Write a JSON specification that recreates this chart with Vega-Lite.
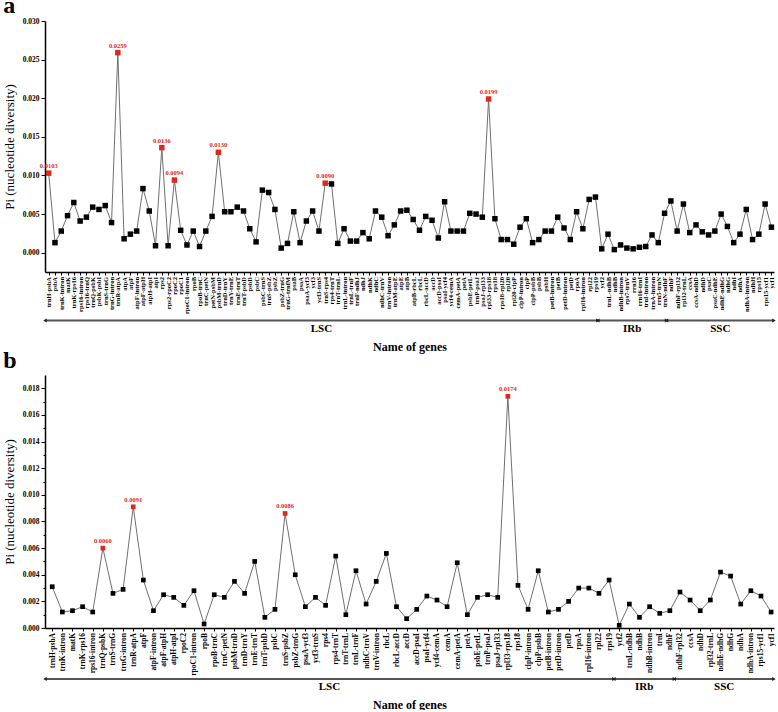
{
  "$schema": "https://vega.github.io/schema/vega-lite/v6.json",
  "background": "white",
  "padding": {"left": 3, "top": -6, "right": 0, "bottom": 0},
  "config": {
    "view": {"stroke": null},
    "font": "Liberation Serif",
    "axis": {"labelFont": "Liberation Serif", "titleFont": "Liberation Serif", "labelFontWeight": "bold", "labelColor": "black", "titleColor": "black", "domainColor": "black", "tickColor": "black", "grid": false},
    "title": {"font": "Liberation Serif", "fontWeight": "bold", "color": "black"}
  },
  "datasets": {
    "a": [
      {"gene": "trnH-psbA", "pi": 0.0103, "hl": true},
      {"gene": "psbA", "pi": 0.0013},
      {"gene": "trnK-intron", "pi": 0.0028},
      {"gene": "matK", "pi": 0.0048},
      {"gene": "trnK-rps16", "pi": 0.0065},
      {"gene": "rps16-intron", "pi": 0.0041},
      {"gene": "rps16-trnQ", "pi": 0.0046},
      {"gene": "trnQ-psbK", "pi": 0.0059},
      {"gene": "psbK-psbI", "pi": 0.0056},
      {"gene": "trnS-trnG", "pi": 0.0061},
      {"gene": "trnG-intron", "pi": 0.0039},
      {"gene": "trnR-atpA", "pi": 0.0259, "hl": true},
      {"gene": "atpA", "pi": 0.0018},
      {"gene": "atpF", "pi": 0.0024},
      {"gene": "atpF-intron", "pi": 0.0028},
      {"gene": "atpF-atpH", "pi": 0.0083},
      {"gene": "atpH-atpI", "pi": 0.0054},
      {"gene": "atpI", "pi": 0.0009},
      {"gene": "rps2", "pi": 0.0136, "hl": true},
      {"gene": "rps2-rpoC2", "pi": 0.0009},
      {"gene": "rpoC2", "pi": 0.0094, "hl": true},
      {"gene": "rpoC1", "pi": 0.0029},
      {"gene": "rpoC1-intron", "pi": 0.0010},
      {"gene": "rpoB", "pi": 0.0028},
      {"gene": "rpoB-trnC", "pi": 0.0008},
      {"gene": "trnC-petN", "pi": 0.0028},
      {"gene": "petN-psbM", "pi": 0.0047},
      {"gene": "psbM-trnD", "pi": 0.0130, "hl": true},
      {"gene": "trnD-trnY", "pi": 0.0053},
      {"gene": "trnY-trnE", "pi": 0.0053},
      {"gene": "trnE-trnT", "pi": 0.0059},
      {"gene": "trnT-psbD", "pi": 0.0054},
      {"gene": "psbD", "pi": 0.0031},
      {"gene": "psbC", "pi": 0.0014},
      {"gene": "psbC-trnS", "pi": 0.0081},
      {"gene": "trnS-psbZ", "pi": 0.0078},
      {"gene": "psbZ", "pi": 0.0056},
      {"gene": "psbZ-trnG", "pi": 0.0006},
      {"gene": "trnG-trnfM", "pi": 0.0012},
      {"gene": "psaB", "pi": 0.0053},
      {"gene": "psaA", "pi": 0.0013},
      {"gene": "psaA-ycf3", "pi": 0.0041},
      {"gene": "ycf3", "pi": 0.0054},
      {"gene": "ycf3-trnS", "pi": 0.0028},
      {"gene": "trnS-rps4", "pi": 0.0090, "hl": true},
      {"gene": "rps4-trnT", "pi": 0.0089},
      {"gene": "trnT-trnL", "pi": 0.0012},
      {"gene": "trnL-intron", "pi": 0.0031},
      {"gene": "trnL-trnF", "pi": 0.0015},
      {"gene": "trnF-ndhJ", "pi": 0.0015},
      {"gene": "ndhJ", "pi": 0.0026},
      {"gene": "ndhK", "pi": 0.0018},
      {"gene": "ndhC", "pi": 0.0054},
      {"gene": "ndhC-trnV", "pi": 0.0046},
      {"gene": "trnV-intron", "pi": 0.0022},
      {"gene": "trnM-atpE", "pi": 0.0036},
      {"gene": "atpE", "pi": 0.0054},
      {"gene": "atpB", "pi": 0.0055},
      {"gene": "atpB-rbcL", "pi": 0.0043},
      {"gene": "rbcL", "pi": 0.0029},
      {"gene": "rbcL-accD", "pi": 0.0047},
      {"gene": "accD", "pi": 0.0042},
      {"gene": "accD-psaI", "pi": 0.0019},
      {"gene": "psaI-ycf4", "pi": 0.0066},
      {"gene": "ycf4-cemA", "pi": 0.0028},
      {"gene": "cemA-petA", "pi": 0.0028},
      {"gene": "petA", "pi": 0.0028},
      {"gene": "psbE-petL", "pi": 0.0051},
      {"gene": "trnP-psaJ", "pi": 0.0050},
      {"gene": "psaJ-rpl33", "pi": 0.0046},
      {"gene": "rpl33-rps18", "pi": 0.0199, "hl": true},
      {"gene": "rps18", "pi": 0.0044},
      {"gene": "rps18-rpl20", "pi": 0.0017},
      {"gene": "rpl20", "pi": 0.0017},
      {"gene": "rpl20-clpP", "pi": 0.0011},
      {"gene": "clpP-intron", "pi": 0.0033},
      {"gene": "clpP", "pi": 0.0044},
      {"gene": "clpP-psbB", "pi": 0.0013},
      {"gene": "psbB", "pi": 0.0017},
      {"gene": "psbH", "pi": 0.0028},
      {"gene": "petB-intron", "pi": 0.0028},
      {"gene": "petB", "pi": 0.0046},
      {"gene": "petD-intron", "pi": 0.0032},
      {"gene": "petD", "pi": 0.0017},
      {"gene": "rpoA", "pi": 0.0053},
      {"gene": "rpl16-intron", "pi": 0.0031},
      {"gene": "rpl22", "pi": 0.0069},
      {"gene": "rps19", "pi": 0.0072},
      {"gene": "ycf2", "pi": 0.0005},
      {"gene": "trnL-ndhB", "pi": 0.0024},
      {"gene": "ndhB", "pi": 0.0004},
      {"gene": "ndhB-intron", "pi": 0.0010},
      {"gene": "rps7-trnV", "pi": 0.0006},
      {"gene": "rrn16", "pi": 0.0005},
      {"gene": "rrn16-trnI", "pi": 0.0007},
      {"gene": "trnI-intron", "pi": 0.0008},
      {"gene": "trnA-intron", "pi": 0.0023},
      {"gene": "rrn5-trnN", "pi": 0.0013},
      {"gene": "trnN-ndhF", "pi": 0.0051},
      {"gene": "ndhF", "pi": 0.0067},
      {"gene": "ndhF-rpl32", "pi": 0.0028},
      {"gene": "rpl32-trnL", "pi": 0.0063},
      {"gene": "ccsA", "pi": 0.0026},
      {"gene": "ccsA-ndhD", "pi": 0.0036},
      {"gene": "ndhD", "pi": 0.0027},
      {"gene": "psaC", "pi": 0.0023},
      {"gene": "psaC-ndhE", "pi": 0.0028},
      {"gene": "ndhE-ndhG", "pi": 0.0050},
      {"gene": "ndhG", "pi": 0.0034},
      {"gene": "ndhI", "pi": 0.0013},
      {"gene": "ndhA", "pi": 0.0024},
      {"gene": "ndhA-intron", "pi": 0.0056},
      {"gene": "ndhH", "pi": 0.0017},
      {"gene": "rps15", "pi": 0.0024},
      {"gene": "rps15-ycf1", "pi": 0.0063},
      {"gene": "ycf1", "pi": 0.0033}
    ],
    "b": [
      {"gene": "trnH-psbA", "pi": 0.0031},
      {"gene": "trnK-intron", "pi": 0.0012},
      {"gene": "matK", "pi": 0.0013},
      {"gene": "trnK-rps16", "pi": 0.0016},
      {"gene": "rps16-intron", "pi": 0.0012},
      {"gene": "trnQ-psbK", "pi": 0.0060, "hl": true},
      {"gene": "trnS-trnG", "pi": 0.0026},
      {"gene": "trnG-intron", "pi": 0.0029},
      {"gene": "trnR-atpA", "pi": 0.0091, "hl": true},
      {"gene": "atpF", "pi": 0.0036},
      {"gene": "atpF-intron", "pi": 0.0013},
      {"gene": "atpF-atpH", "pi": 0.0025},
      {"gene": "atpH-atpI", "pi": 0.0023},
      {"gene": "rpoC2", "pi": 0.0017},
      {"gene": "rpoC1-intron", "pi": 0.0028},
      {"gene": "rpoB", "pi": 0.0003},
      {"gene": "rpoB-trnC", "pi": 0.0025},
      {"gene": "trnC-petN", "pi": 0.0023},
      {"gene": "psbM-trnD", "pi": 0.0035},
      {"gene": "trnD-trnY", "pi": 0.0026},
      {"gene": "trnE-trnT", "pi": 0.0050},
      {"gene": "trnT-psbD", "pi": 0.0008},
      {"gene": "psbC", "pi": 0.0014},
      {"gene": "trnS-psbZ", "pi": 0.0086, "hl": true},
      {"gene": "psbZ-trnG", "pi": 0.0040},
      {"gene": "psaA-ycf3", "pi": 0.0016},
      {"gene": "ycf3-trnS", "pi": 0.0023},
      {"gene": "rps4", "pi": 0.0017},
      {"gene": "rps4-trnT", "pi": 0.0054},
      {"gene": "trnT-trnL", "pi": 0.0010},
      {"gene": "trnL-trnF", "pi": 0.0043},
      {"gene": "ndhC-trnV", "pi": 0.0018},
      {"gene": "trnV-intron", "pi": 0.0035},
      {"gene": "rbcL", "pi": 0.0056},
      {"gene": "rbcL-accD", "pi": 0.0016},
      {"gene": "accD", "pi": 0.0007},
      {"gene": "accD-psaI", "pi": 0.0014},
      {"gene": "psaI-ycf4", "pi": 0.0024},
      {"gene": "ycf4-cemA", "pi": 0.0021},
      {"gene": "cemA", "pi": 0.0016},
      {"gene": "cemA-petA", "pi": 0.0049},
      {"gene": "petA", "pi": 0.0010},
      {"gene": "psbE-petL", "pi": 0.0023},
      {"gene": "trnP-psaJ", "pi": 0.0025},
      {"gene": "psaJ-rpl33", "pi": 0.0023},
      {"gene": "rpl33-rps18", "pi": 0.0174, "hl": true},
      {"gene": "rps18", "pi": 0.0032},
      {"gene": "clpP-intron", "pi": 0.0014},
      {"gene": "clpP-psbB", "pi": 0.0043},
      {"gene": "petB-intron", "pi": 0.0012},
      {"gene": "petD-intron", "pi": 0.0014},
      {"gene": "petD", "pi": 0.0020},
      {"gene": "rpoA", "pi": 0.0030},
      {"gene": "rpl16-intron", "pi": 0.0030},
      {"gene": "rpl22", "pi": 0.0026},
      {"gene": "rps19", "pi": 0.0036},
      {"gene": "ycf2", "pi": 0.0002},
      {"gene": "trnL-ndhB", "pi": 0.0018},
      {"gene": "ndhB", "pi": 0.0008},
      {"gene": "ndhB-intron", "pi": 0.0016},
      {"gene": "trnI", "pi": 0.0011},
      {"gene": "ndhF", "pi": 0.0013},
      {"gene": "ndhF-rpl32", "pi": 0.0027},
      {"gene": "ccsA", "pi": 0.0021},
      {"gene": "ndhD", "pi": 0.0013},
      {"gene": "rpl32-trnL", "pi": 0.0021},
      {"gene": "ndhE-ndhG", "pi": 0.0042},
      {"gene": "ndhG", "pi": 0.0039},
      {"gene": "ndhA", "pi": 0.0018},
      {"gene": "ndhA-intron", "pi": 0.0028},
      {"gene": "rps15-ycf1", "pi": 0.0024},
      {"gene": "ycf1", "pi": 0.0012}
    ],
    "ra": [
      {"region": "LSC", "start": 0, "end": 88.5},
      {"region": "IRb", "start": 88.5, "end": 99.5},
      {"region": "SSC", "start": 99.5, "end": 116.7}
    ],
    "rb": [
      {"region": "LSC", "start": 0, "end": 56.5},
      {"region": "IRb", "start": 56.5, "end": 62.5},
      {"region": "SSC", "start": 62.5, "end": 72.4}
    ]
  },
  "spacing": -3,
  "vconcat": [
    {
      "title": {"text": "a", "fontSize": 24, "anchor": "start", "frame": "bounds", "offset": -1},
      "spacing": 3,
      "vconcat": [
        {
          "width": 729,
          "height": 251,
          "data": {"name": "a"},
          "encoding": {
            "x": {"field": "gene", "type": "ordinal", "sort": null,
              "scale": {"type": "point", "paddingOuter": 0.85, "align": 0.588},
              "axis": {"title": null, "labelAngle": -90, "labelFontSize": 6.5, "labelOverlap": false, "labelPadding": 1.5, "tickSize": 3, "domainWidth": 1.5, "labelBound": false, "labelFlush": false}},
            "y": {"field": "pi", "type": "quantitative",
              "scale": {"domain": [-0.0025, 0.03], "nice": false, "zero": false},
              "axis": {"values": [0, 0.005, 0.01, 0.015, 0.02, 0.025, 0.03], "format": ".3f", "labelFontSize": 7.5, "tickSize": 4, "labelPadding": 2, "title": "Pi (nucleotide diversity)", "titleFontSize": 13, "titleFontWeight": "normal", "titlePadding": 6, "domainWidth": 1.5}}
          },
          "layer": [
            {"mark": {"type": "line", "color": "#707070", "strokeWidth": 1}},
            {"mark": {"type": "square", "size": 30, "opacity": 1, "filled": true},
              "encoding": {"color": {"condition": {"test": "datum.hl", "value": "#e3261c"}, "value": "black"}}},
            {"transform": [{"filter": "datum.hl"}],
              "mark": {"type": "text", "dy": -7, "fontSize": 6.5, "fontWeight": "bold", "color": "#e3261c", "font": "Liberation Serif"},
              "encoding": {"text": {"field": "pi", "type": "quantitative", "format": ".4f"}}}
          ]
        },
        {
          "width": 729,
          "height": 7,
          "data": {"name": "ra"},
          "transform": [{"calculate": "(datum.start + datum.end) / 2", "as": "mid"}],
          "encoding": {
            "x": {"field": "start", "type": "quantitative",
              "scale": {"domain": [0, 116.7], "nice": false, "zero": false},
              "axis": {"labels": false, "ticks": false, "domain": false, "grid": false, "title": "Name of genes", "titleFontSize": 12, "titleFontWeight": "bold", "titlePadding": 17}}
          },
          "layer": [
            {"mark": {"type": "rule", "color": "#555555", "strokeWidth": 2}, "encoding": {"x2": {"field": "end"}}},
            {"mark": {"type": "point", "shape": "triangle-left", "filled": true, "size": 16, "color": "#222222", "opacity": 1}},
            {"mark": {"type": "point", "shape": "triangle-right", "filled": true, "size": 16, "color": "#222222", "opacity": 1}, "encoding": {"x": {"field": "end", "type": "quantitative"}}},
            {"mark": {"type": "text", "baseline": "top", "dy": 2, "fontSize": 11, "fontWeight": "bold", "font": "Liberation Serif", "color": "black"},
              "encoding": {"x": {"field": "mid", "type": "quantitative"}, "text": {"field": "region"}}}
          ]
        }
      ]
    },
    {
      "title": {"text": "b", "fontSize": 24, "anchor": "start", "frame": "bounds", "offset": 2},
      "spacing": 0,
      "vconcat": [
        {
          "width": 729,
          "height": 253,
          "data": {"name": "b"},
          "encoding": {
            "x": {"field": "gene", "type": "ordinal", "sort": null,
              "scale": {"type": "point", "paddingOuter": 0.7, "align": 0.714},
              "axis": {"title": null, "labelAngle": -90, "labelFontSize": 7.5, "labelOverlap": false, "labelPadding": 1.5, "tickSize": 3, "domainWidth": 1.5, "labelBound": false, "labelFlush": false}},
            "y": {"field": "pi", "type": "quantitative",
              "scale": {"domain": [0, 0.019], "nice": false, "zero": false},
              "axis": {"values": [0, 0.001, 0.002, 0.003, 0.004, 0.005, 0.006, 0.007, 0.008, 0.009, 0.01, 0.011, 0.012, 0.013, 0.014, 0.015, 0.016, 0.017, 0.018],
                "labelExpr": "round(datum.value * 1000) % 2 == 0 ? format(datum.value, '.3f') : ''",
                "tickSize": {"condition": {"test": "round(datum.value * 1000) % 2 == 0", "value": 4}, "value": 2},
                "labelFontSize": 7.5, "labelPadding": 2, "title": "Pi (nucleotide diversity)", "titleFontSize": 13, "titleFontWeight": "normal", "titlePadding": 6, "domainWidth": 1.5}}
          },
          "layer": [
            {"mark": {"type": "line", "color": "#707070", "strokeWidth": 1}},
            {"mark": {"type": "square", "size": 22, "opacity": 1, "filled": true},
              "encoding": {"color": {"condition": {"test": "datum.hl", "value": "#e3261c"}, "value": "black"}}},
            {"transform": [{"filter": "datum.hl"}],
              "mark": {"type": "text", "dy": -7, "fontSize": 6.5, "fontWeight": "bold", "color": "#e3261c", "font": "Liberation Serif"},
              "encoding": {"text": {"field": "pi", "type": "quantitative", "format": ".4f"}}}
          ]
        },
        {
          "width": 729,
          "height": 6,
          "data": {"name": "rb"},
          "transform": [{"calculate": "(datum.start + datum.end) / 2", "as": "mid"}],
          "encoding": {
            "x": {"field": "start", "type": "quantitative",
              "scale": {"domain": [0, 72.4], "nice": false, "zero": false},
              "axis": {"labels": false, "ticks": false, "domain": false, "grid": false, "title": "Name of genes", "titleFontSize": 12, "titleFontWeight": "bold", "titlePadding": 17}}
          },
          "layer": [
            {"mark": {"type": "rule", "color": "#555555", "strokeWidth": 2}, "encoding": {"x2": {"field": "end"}}},
            {"mark": {"type": "point", "shape": "triangle-left", "filled": true, "size": 16, "color": "#222222", "opacity": 1}},
            {"mark": {"type": "point", "shape": "triangle-right", "filled": true, "size": 16, "color": "#222222", "opacity": 1}, "encoding": {"x": {"field": "end", "type": "quantitative"}}},
            {"mark": {"type": "text", "baseline": "top", "dy": 2, "fontSize": 11, "fontWeight": "bold", "font": "Liberation Serif", "color": "black"},
              "encoding": {"x": {"field": "mid", "type": "quantitative"}, "text": {"field": "region"}}}
          ]
        }
      ]
    }
  ]
}
